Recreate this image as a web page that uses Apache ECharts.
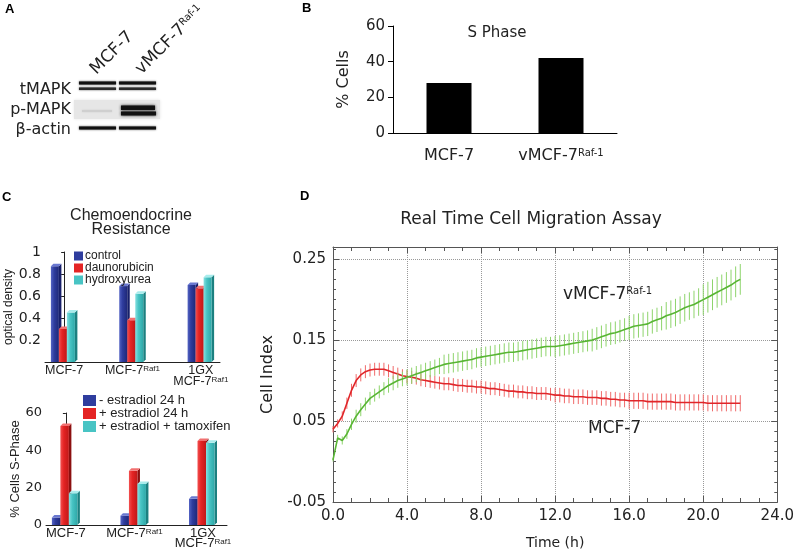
<!DOCTYPE html>
<html>
<head>
<meta charset="utf-8" />
<title>MCF-7 / vMCF-7 Raf-1</title>
<script src="https://cdn.jsdelivr.net/npm/echarts@6/dist/echarts.min.js"></script>
<style>
  body { margin: 0; background: #fff; }
  #main { width: 797px; height: 552px; }
</style>
</head>
<body>
<div id="main"></div>
<script type="text/javascript">
// ---- panel B: S phase ----
var bCategories = ['MCF-7', 'vMCF-7'];
var bSup = ['', 'Raf-1'];
var bValues = [28, 42];

// ---- panel C: chemoendocrine resistance ----
var cGroups = ['MCF-7', 'MCF-7', '1GX\nMCF-7'];
var cSup = ['', 'Raf1', 'Raf1'];
var cGroupPos = [0, 1, 2];
var odNames = ['control', 'daunorubicin', 'hydroxyurea'];
var odControl = [0.87, 0.69, 0.70];
var odDauno = [0.30, 0.38, 0.67];
var odHydroxy = [0.45, 0.62, 0.77];
var spNames = ['- estradiol 24 h', '+ estradiol 24 h', '+ estradiol + tamoxifen'];
var spMinusE2 = [4, 5, 14];
var spPlusE2 = [53, 29, 45];
var spTamox = [17, 22, 44];

// ---- panel D: real time migration (cell index) ----
var hours = [
  0, 0.25, 0.5, 0.75, 1, 1.25, 1.5, 1.75, 2, 2.25, 2.5, 2.75,
  3, 3.25, 3.5, 3.75, 4, 4.25, 4.5, 4.75, 5, 5.25, 5.5, 5.75,
  6, 6.25, 6.5, 6.75, 7, 7.25, 7.5, 7.75, 8, 8.25, 8.5, 8.75,
  9, 9.25, 9.5, 9.75, 10, 10.25, 10.5, 10.75, 11, 11.25, 11.5, 11.75,
  12, 12.25, 12.5, 12.75, 13, 13.25, 13.5, 13.75, 14, 14.25, 14.5, 14.75,
  15, 15.25, 15.5, 15.75, 16, 16.25, 16.5, 16.75, 17, 17.25, 17.5, 17.75,
  18, 18.25, 18.5, 18.75, 19, 19.25, 19.5, 19.75, 20, 20.25, 20.5, 20.75,
  21, 21.25, 21.5, 21.75, 22
];
var mcf7Mean = [
  0.040, 0.047, 0.056, 0.072, 0.088, 0.100, 0.107, 0.111, 0.113, 0.114, 0.114, 0.114,
  0.112, 0.110, 0.108, 0.106, 0.105, 0.104, 0.103, 0.101, 0.100, 0.099, 0.098, 0.097,
  0.096, 0.096, 0.095, 0.094, 0.094, 0.093, 0.093, 0.092, 0.092, 0.091, 0.090, 0.090,
  0.089, 0.088, 0.087, 0.087, 0.086, 0.086, 0.085, 0.085, 0.084, 0.084, 0.084, 0.083,
  0.082, 0.082, 0.081, 0.081, 0.080, 0.080, 0.080, 0.079, 0.079, 0.079, 0.078, 0.078,
  0.077, 0.077, 0.076, 0.076, 0.075, 0.075, 0.075, 0.075, 0.074, 0.074, 0.074, 0.074,
  0.074, 0.074, 0.073, 0.073, 0.073, 0.073, 0.073, 0.073, 0.073, 0.072, 0.072, 0.072,
  0.072, 0.072, 0.072, 0.072, 0.072
];
var mcf7Err = [
  0.004, 0.005, 0.006, 0.007, 0.008, 0.008, 0.008, 0.008, 0.008, 0.008, 0.008, 0.008,
  0.008, 0.008, 0.008, 0.008, 0.008, 0.008, 0.008, 0.008, 0.008, 0.008, 0.008, 0.008,
  0.008, 0.008, 0.008, 0.008, 0.008, 0.008, 0.008, 0.008, 0.008, 0.008, 0.008, 0.008,
  0.008, 0.008, 0.008, 0.008, 0.008, 0.008, 0.008, 0.008, 0.008, 0.008, 0.008, 0.008,
  0.009, 0.009, 0.009, 0.009, 0.009, 0.009, 0.009, 0.009, 0.009, 0.009, 0.009, 0.009,
  0.009, 0.009, 0.009, 0.009, 0.010, 0.010, 0.010, 0.010, 0.010, 0.010, 0.010, 0.010,
  0.010, 0.010, 0.010, 0.010, 0.010, 0.010, 0.010, 0.010, 0.010, 0.010, 0.010, 0.010,
  0.010, 0.010, 0.010, 0.010, 0.010
];
var raf1Mean = [
  0.002, 0.029, 0.026, 0.034, 0.046, 0.056, 0.064, 0.071, 0.078, 0.082, 0.086, 0.090,
  0.094, 0.097, 0.100, 0.102, 0.104, 0.106, 0.108, 0.110, 0.112, 0.114, 0.116, 0.118,
  0.120, 0.121, 0.122, 0.123, 0.124, 0.125, 0.126, 0.128, 0.129, 0.130, 0.131, 0.132,
  0.133, 0.134, 0.135, 0.135, 0.136, 0.137, 0.138, 0.139, 0.140, 0.141, 0.142, 0.142,
  0.142, 0.143, 0.144, 0.145, 0.146, 0.147, 0.148, 0.149, 0.150, 0.152, 0.154, 0.156,
  0.158, 0.159, 0.161, 0.163, 0.165, 0.167, 0.168, 0.169, 0.170, 0.173, 0.175, 0.177,
  0.180, 0.182, 0.184, 0.187, 0.190, 0.192, 0.194, 0.197, 0.200, 0.203, 0.206, 0.209,
  0.212, 0.215, 0.218, 0.222, 0.225
];
var raf1Err = [
  0.002, 0.004, 0.005, 0.006, 0.007, 0.008, 0.008, 0.008, 0.008, 0.008, 0.008, 0.008,
  0.009, 0.009, 0.009, 0.009, 0.010, 0.010, 0.010, 0.010, 0.010, 0.010, 0.010, 0.010,
  0.012, 0.012, 0.012, 0.012, 0.012, 0.012, 0.012, 0.012, 0.012, 0.012, 0.012, 0.012,
  0.012, 0.012, 0.012, 0.012, 0.012, 0.012, 0.012, 0.012, 0.012, 0.012, 0.012, 0.012,
  0.013, 0.013, 0.013, 0.013, 0.013, 0.013, 0.013, 0.013, 0.014, 0.014, 0.014, 0.014,
  0.014, 0.014, 0.014, 0.014, 0.015, 0.015, 0.015, 0.015, 0.015, 0.015, 0.015, 0.015,
  0.017, 0.017, 0.017, 0.017, 0.017, 0.017, 0.017, 0.017, 0.019, 0.019, 0.019, 0.019,
  0.019, 0.019, 0.019, 0.019, 0.019
];
var dTicksY = [-0.05, 0.05, 0.15, 0.25];

var SANS = 'Liberation Sans';
var WIDE = 'DejaVu Sans';
var INK = '#222';

var blue = { main: '#2f3d9e', light: '#5464c4', dark: '#1e2878', side: '#18206a', top: '#6a78d0' };
var red = { main: '#e42424', light: '#f25050', dark: '#c01818', side: '#8c1010', top: '#f27070' };
var cyan = { main: '#48c4c4', light: '#86e0e0', dark: '#2ea8a8', side: '#1c8080', top: '#a8ecec' };

var myChart = echarts.init(document.getElementById('main'));

// 3D looking bar, k = position inside the group (0,1,2)
function bar3d(k, w, c) {
    return function (params, api) {
        var top = api.coord([api.value(0), api.value(1)]);
        var base = api.coord([api.value(0), 0]);
        var d = 2.5;
        var x0 = top[0] + (k - 1) * w - w / 2 - d / 2;
        var x1 = x0 + w;
        var y0 = top[1], y1 = base[1];
        return {
            type: 'group',
            children: [
                { type: 'polygon', shape: { points: [[x1, y0], [x1 + d, y0 - d], [x1 + d, y1 - d], [x1, y1]] }, style: { fill: c.side } },
                { type: 'rect', shape: { x: x0, y: y0, width: w, height: y1 - y0 },
                  style: { fill: new echarts.graphic.LinearGradient(0, 0, 1, 0, [
                      { offset: 0, color: c.light }, { offset: 0.4, color: c.main }, { offset: 1, color: c.dark }]) } },
                { type: 'polygon', shape: { points: [[x0, y0], [x0 + d, y0 - d], [x1 + d, y0 - d], [x1, y0]] }, style: { fill: c.top } }
            ]
        };
    };
}

function errorBars(color) {
    return function (params, api) {
        var lo = api.coord([api.value(0), api.value(1)]);
        var hi = api.coord([api.value(0), api.value(2)]);
        return { type: 'line', shape: { x1: lo[0], y1: lo[1], x2: hi[0], y2: hi[1] }, style: { stroke: color, lineWidth: 1 } };
    };
}

function pairs(xs, ys) { return xs.map(function (x, i) { return [x, ys[i]]; }); }
function ranges(xs, m, e) { return xs.map(function (x, i) { return [x, m[i] - e[i], m[i] + e[i]]; }); }
function groupLabel(v) {
    var i = Math.round(v);
    return cSup[i] ? cGroups[i] + '{sup|' + cSup[i] + '}' : cGroups[i];
}

function cBarSeries(name, values, k, w, c, ax) {
    return {
        name: name, type: 'custom', xAxisIndex: ax, yAxisIndex: ax,
        itemStyle: { color: c.main },
        renderItem: bar3d(k, w, c),
        encode: { x: 0, y: 1 },
        data: pairs(cGroupPos, values)
    };
}

var dAxisX = {
    gridIndex: 3, type: 'value', min: 0, max: 24, interval: 4,
    axisLine: { onZero: false, lineStyle: { color: '#555' } },
    axisTick: { inside: true, length: 6, lineStyle: { color: '#555' } },
    minorTick: { show: true, splitNumber: 4, length: 4, lineStyle: { color: '#555' } }
};
var dAxisY = {
    gridIndex: 3, type: 'value', min: -0.05, max: 0.265, interval: 0.1,
    axisLine: { onZero: false, lineStyle: { color: '#555' } },
    axisTick: { inside: true, length: 6, lineStyle: { color: '#555' } },
    minorTick: { show: true, splitNumber: 8, length: 3, lineStyle: { color: '#555' } }
};

var option = {
    animation: false,
    backgroundColor: '#fff',
    textStyle: { fontFamily: SANS, color: INK },
    title: [
        { text: 'S Phase', left: 497, top: 26, textAlign: 'center', padding: 0,
          textStyle: { fontFamily: WIDE, fontSize: 15, fontWeight: 'normal', color: INK } },
        { text: 'Chemoendocrine\nResistance', left: 131, top: 209, textAlign: 'center', padding: 0,
          textStyle: { fontFamily: SANS, fontSize: 16, lineHeight: 14, fontWeight: 'normal', color: INK } },
        { text: 'Real Time Cell Migration Assay', left: 531, top: 211, textAlign: 'center', padding: 0,
          textStyle: { fontFamily: WIDE, fontSize: 17, fontWeight: 'normal', color: INK } }
    ],
    legend: [
        { data: odNames, orient: 'vertical', left: 74, top: 250, padding: 0, itemGap: 0,
          itemWidth: 9, itemHeight: 9, icon: 'rect',
          textStyle: { fontFamily: SANS, fontSize: 12, lineHeight: 10, color: INK, padding: [0, 0, 0, -3] } },
        { data: spNames, orient: 'vertical', left: 83, top: 394, padding: 0, itemGap: 0,
          itemWidth: 13, itemHeight: 11, icon: 'rect',
          textStyle: { fontFamily: SANS, fontSize: 13, lineHeight: 12.5, color: INK, padding: [0, 0, 0, -2] } }
    ],
    grid: [
        { left: 393, top: 26, width: 224, height: 107 },
        { left: 45, top: 252, width: 175, height: 110 },
        { left: 46, top: 413, width: 181, height: 112 },
        { left: 333, top: 247, right: 18, bottom: 50 }
    ],
    xAxis: [
        { gridIndex: 0, type: 'category', data: bCategories,
          axisLine: { lineStyle: { color: '#000' } },
          axisTick: { length: 4, lineStyle: { color: '#000' } },
          axisLabel: { interval: 0, hideOverlap: false, margin: 15, fontFamily: WIDE, fontSize: 16, color: INK,
              formatter: function (v, i) { return bSup[i] ? v + '{sup|' + bSup[i] + '}' : v; },
              rich: { sup: { fontFamily: WIDE, fontSize: 10, verticalAlign: 'top', color: INK } } } },
        { gridIndex: 1, type: 'value', min: -0.28, max: 2.28,
          axisLine: { onZero: false, lineStyle: { color: INK } }, axisTick: { show: false }, splitLine: { show: false },
          axisLabel: { customValues: cGroupPos, margin: 3, fontFamily: SANS, fontSize: 12.5, lineHeight: 11, color: INK,
              formatter: groupLabel, rich: { sup: { fontFamily: SANS, fontSize: 8, verticalAlign: 'top', color: INK } } } },
        { gridIndex: 2, type: 'value', min: -0.29, max: 2.35,
          axisLine: { onZero: false, lineStyle: { color: INK } }, axisTick: { show: false }, splitLine: { show: false },
          axisLabel: { customValues: cGroupPos, margin: 3, fontFamily: SANS, fontSize: 13, lineHeight: 10, color: INK,
              formatter: groupLabel, rich: { sup: { fontFamily: SANS, fontSize: 8, verticalAlign: 'top', color: INK } } } },
        Object.assign({}, dAxisX, {
          position: 'bottom', name: 'Time (h)', nameLocation: 'middle', nameGap: 34,
          nameTextStyle: { fontFamily: WIDE, fontSize: 14, color: INK },
          splitLine: { show: true, lineStyle: { color: '#999', type: 'dotted' } },
          axisLabel: { margin: 7, fontFamily: WIDE, fontSize: 15, color: INK,
              formatter: function (v) { return v.toFixed(1); } } }),
        Object.assign({}, dAxisX, { position: 'top', axisLabel: { show: false }, splitLine: { show: false } })
    ],
    yAxis: [
        { gridIndex: 0, type: 'value', min: 0, max: 60, interval: 20,
          name: '% Cells', nameLocation: 'middle', nameGap: 41,
          nameTextStyle: { fontFamily: WIDE, fontSize: 16, color: INK },
          axisLine: { show: true, lineStyle: { color: '#000' } },
          axisTick: { show: true, length: 5, lineStyle: { color: '#000' } },
          splitLine: { show: false },
          axisLabel: { margin: 8, fontFamily: WIDE, fontSize: 15, color: INK } },
        { gridIndex: 1, type: 'value', min: 0, max: 1, interval: 0.2,
          name: 'optical density', nameLocation: 'middle', nameGap: 23,
          nameTextStyle: { fontFamily: SANS, fontSize: 12, color: INK },
          axisLine: { show: true, lineStyle: { color: INK } },
          axisTick: { show: true, length: 3, lineStyle: { color: INK } },
          splitLine: { show: false },
          axisLabel: { margin: 4, fontFamily: WIDE, fontSize: 14, color: INK,
              formatter: function (v) { return v === 0 ? '' : String(v); } } },
        { gridIndex: 2, type: 'value', min: 0, max: 60, interval: 20,
          name: '% Cells S-Phase', nameLocation: 'middle', nameGap: 18,
          nameTextStyle: { fontFamily: SANS, fontSize: 13, color: INK },
          axisLine: { show: true, lineStyle: { color: INK } },
          axisTick: { show: true, length: 3, lineStyle: { color: INK } },
          splitLine: { show: false },
          axisLabel: { margin: 4, fontFamily: WIDE, fontSize: 13, color: INK } },
        Object.assign({}, dAxisY, {
          position: 'left', name: 'Cell Index', nameLocation: 'middle', nameGap: 55,
          nameTextStyle: { fontFamily: WIDE, fontSize: 16, color: INK },
          splitLine: { show: true, lineStyle: { color: '#999', type: 'dotted' } },
          axisLabel: { margin: 7, fontFamily: WIDE, fontSize: 15, color: INK,
              formatter: function (v) {
                  return dTicksY.some(function (t) { return Math.abs(t - v) < 1e-6; }) ? v.toFixed(2) : '';
              } } }),
        Object.assign({}, dAxisY, { position: 'right', axisLabel: { show: false }, splitLine: { show: false } })
    ],
    series: [
        { name: 'S Phase', type: 'bar', xAxisIndex: 0, yAxisIndex: 0, barWidth: 45,
          itemStyle: { color: '#000' }, data: bValues },

        cBarSeries(odNames[0], odControl, 0, 8, blue, 1),
        cBarSeries(odNames[1], odDauno, 1, 8, red, 1),
        cBarSeries(odNames[2], odHydroxy, 2, 8, cyan, 1),

        cBarSeries(spNames[0], spMinusE2, 0, 8.5, blue, 2),
        cBarSeries(spNames[1], spPlusE2, 1, 8.5, red, 2),
        cBarSeries(spNames[2], spTamox, 2, 8.5, cyan, 2),

        { name: 'MCF-7 error', type: 'custom', xAxisIndex: 3, yAxisIndex: 3,
          renderItem: errorBars('#f06a6a'), encode: { x: 0, y: [1, 2] },
          data: ranges(hours, mcf7Mean, mcf7Err), z: 2 },
        { name: 'MCF-7', type: 'line', xAxisIndex: 3, yAxisIndex: 3, showSymbol: false,
          lineStyle: { color: '#e0262a', width: 1.6 }, itemStyle: { color: '#e0262a' },
          data: pairs(hours, mcf7Mean), z: 3 },
        { name: 'vMCF-7 Raf-1 error', type: 'custom', xAxisIndex: 3, yAxisIndex: 3,
          renderItem: errorBars('#8ed46c'), encode: { x: 0, y: [1, 2] },
          data: ranges(hours, raf1Mean, raf1Err), z: 4 },
        { name: 'vMCF-7 Raf-1', type: 'line', xAxisIndex: 3, yAxisIndex: 3, showSymbol: false,
          lineStyle: { color: '#58b534', width: 1.6 }, itemStyle: { color: '#58b534' },
          data: pairs(hours, raf1Mean), z: 5 }
    ],
    graphic: [
        // panel letters
        { type: 'text', x: 5, y: 3, style: { text: 'A', font: 'bold 13px "Liberation Sans"', fill: '#000' } },
        { type: 'text', x: 302, y: 2, style: { text: 'B', font: 'bold 13px "Liberation Sans"', fill: '#000' } },
        { type: 'text', x: 2, y: 191, style: { text: 'C', font: 'bold 13px "Liberation Sans"', fill: '#000' } },
        { type: 'text', x: 300, y: 190, style: { text: 'D', font: 'bold 13px "Liberation Sans"', fill: '#000' } },

        // panel A: western blot
        { type: 'text', x: 112, y: 53, rotation: Math.PI / 4,
          style: { text: 'MCF-7', font: '17px "DejaVu Sans"', fill: INK, align: 'center', verticalAlign: 'middle', textAlign: 'center', textVerticalAlign: 'middle' } },
        { type: 'text', x: 170, y: 40, rotation: Math.PI / 4,
          style: { text: 'vMCF-7{sup|Raf-1}', font: '17px "DejaVu Sans"', fill: INK, align: 'center', verticalAlign: 'middle', textAlign: 'center', textVerticalAlign: 'middle',
                   rich: { sup: { fontFamily: WIDE, fontSize: 10, verticalAlign: 'top', fill: INK } } } },
        { type: 'text', x: 71, y: 90, style: { text: 'tMAPK', font: '16px "DejaVu Sans"', fill: INK, align: 'right', verticalAlign: 'middle', textAlign: 'right', textVerticalAlign: 'middle' } },
        { type: 'text', x: 71, y: 110, style: { text: 'p-MAPK', font: '16px "DejaVu Sans"', fill: INK, align: 'right', verticalAlign: 'middle', textAlign: 'right', textVerticalAlign: 'middle' } },
        { type: 'text', x: 71, y: 130, style: { text: 'β-actin', font: '16px "DejaVu Sans"', fill: INK, align: 'right', verticalAlign: 'middle', textAlign: 'right', textVerticalAlign: 'middle' } },
        { type: 'rect', shape: { x: 74, y: 100, width: 86, height: 19 }, style: { fill: '#e6e6e6', shadowBlur: 3, shadowColor: '#e6e6e6' } },
        { type: 'rect', shape: { x: 79, y: 81.5, width: 37, height: 3 }, style: { fill: '#111', shadowBlur: 2, shadowColor: '#333' } },
        { type: 'rect', shape: { x: 79, y: 87.5, width: 37, height: 2.5 }, style: { fill: '#2a2a2a', shadowBlur: 2, shadowColor: '#444' } },
        { type: 'rect', shape: { x: 119, y: 81.5, width: 37, height: 3 }, style: { fill: '#111', shadowBlur: 2, shadowColor: '#333' } },
        { type: 'rect', shape: { x: 119, y: 87.5, width: 37, height: 2.5 }, style: { fill: '#2a2a2a', shadowBlur: 2, shadowColor: '#444' } },
        { type: 'rect', shape: { x: 82, y: 110, width: 30, height: 2 }, style: { fill: '#cfcfcf', shadowBlur: 2, shadowColor: '#cfcfcf' } },
        { type: 'rect', shape: { x: 121, y: 105.5, width: 34, height: 4.5 }, style: { fill: '#111', shadowBlur: 3, shadowColor: '#222' } },
        { type: 'rect', shape: { x: 121, y: 111.5, width: 35, height: 4 }, style: { fill: '#111', shadowBlur: 3, shadowColor: '#222' } },
        { type: 'rect', shape: { x: 79, y: 126.5, width: 37, height: 3 }, style: { fill: '#111', shadowBlur: 2, shadowColor: '#333' } },
        { type: 'rect', shape: { x: 119, y: 126.5, width: 37, height: 3 }, style: { fill: '#111', shadowBlur: 2, shadowColor: '#333' } },

        // panel D annotations
        { type: 'text', x: 563, y: 295,
          style: { text: 'vMCF-7{sup|Raf-1}', font: '17px "DejaVu Sans"', fill: INK, verticalAlign: 'middle', textVerticalAlign: 'middle',
                   rich: { sup: { fontFamily: WIDE, fontSize: 10, verticalAlign: 'top', fill: INK } } } },
        { type: 'text', x: 588, y: 429,
          style: { text: 'MCF-7', font: '17px "DejaVu Sans"', fill: INK, verticalAlign: 'middle', textVerticalAlign: 'middle' } }
    ]
};

myChart.setOption(option);
</script>
</body>
</html>
